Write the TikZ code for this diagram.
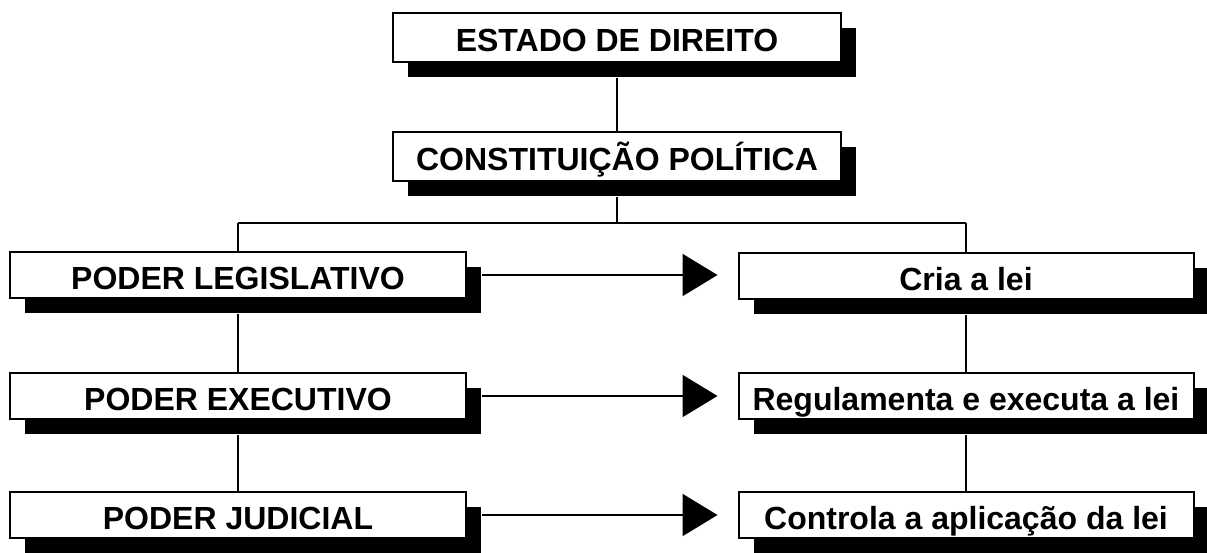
\documentclass[tikz,border=0pt]{standalone}
\usepackage{fontspec}
\setmainfont{Liberation Sans}
\usetikzlibrary{shadows,arrows.meta}
\begin{document}
\begin{tikzpicture}[x=1pt,y=-1pt,
  box/.style={draw=black,line width=2pt,fill=white,rectangle,inner sep=0pt,
    minimum height=46pt,text height=28pt,text depth=0pt,
    font=\fontsize{32}{38}\selectfont\bfseries,
    drop shadow={shadow xshift=15pt,shadow yshift=-15pt,opacity=1,fill=black}},
  topbox/.style={box,minimum width=448pt,minimum height=49pt},
  leftbox/.style={box,minimum width=456pt},
  rightbox/.style={box,minimum width=455pt},
  conn/.style={line width=2pt},
  arr/.style={line width=2pt,-{Triangle[length=35pt,width=42pt]}}
]
\useasboundingbox (0,0) rectangle (1207,552);
\node[topbox] (estado) at (617,37) {ESTADO DE DIREITO};
\node[topbox] (const) at (617,156) {CONSTITUIÇÃO POLÍTICA};
\node[leftbox] (leg) at (238,275) {PODER LEGISLATIVO};
\node[leftbox] (exe) at (238,396) {PODER EXECUTIVO};
\node[leftbox] (jud) at (238,515) {PODER JUDICIAL};
\node[rightbox] (cria) at (966,276) {Cria a lei};
\node[rightbox] (regu) at (966,396) {Regulamenta e executa a lei};
\node[rightbox] (contr) at (966,515) {Controla a aplicação da lei};
\coordinate (hm) at (617,223);
\coordinate (hl) at (leg.north |- hm);
\coordinate (hr) at (cria.north |- hm);
\draw[conn] (estado.south) ++(0,15) -- (const.north);
\draw[conn] (const.south) ++(0,15) -- (hm);
\draw[conn] (hl) -- (hr);
\draw[conn] (hl) -- (leg.north);
\draw[conn] (hr) -- (cria.north);
\draw[conn] (leg.south) ++(0,15) -- (exe.north);
\draw[conn] (exe.south) ++(0,15) -- (jud.north);
\draw[conn] (cria.south) ++(0,15) -- (regu.north);
\draw[conn] (regu.south) ++(0,15) -- (contr.north);
\draw[arr] ([xshift=15pt]leg.east) -- ([xshift=-20pt]leg.east -| cria.west);
\draw[arr] ([xshift=15pt]exe.east) -- ([xshift=-20pt]exe.east -| regu.west);
\draw[arr] ([xshift=15pt]jud.east) -- ([xshift=-20pt]jud.east -| contr.west);
\end{tikzpicture}
\end{document}
